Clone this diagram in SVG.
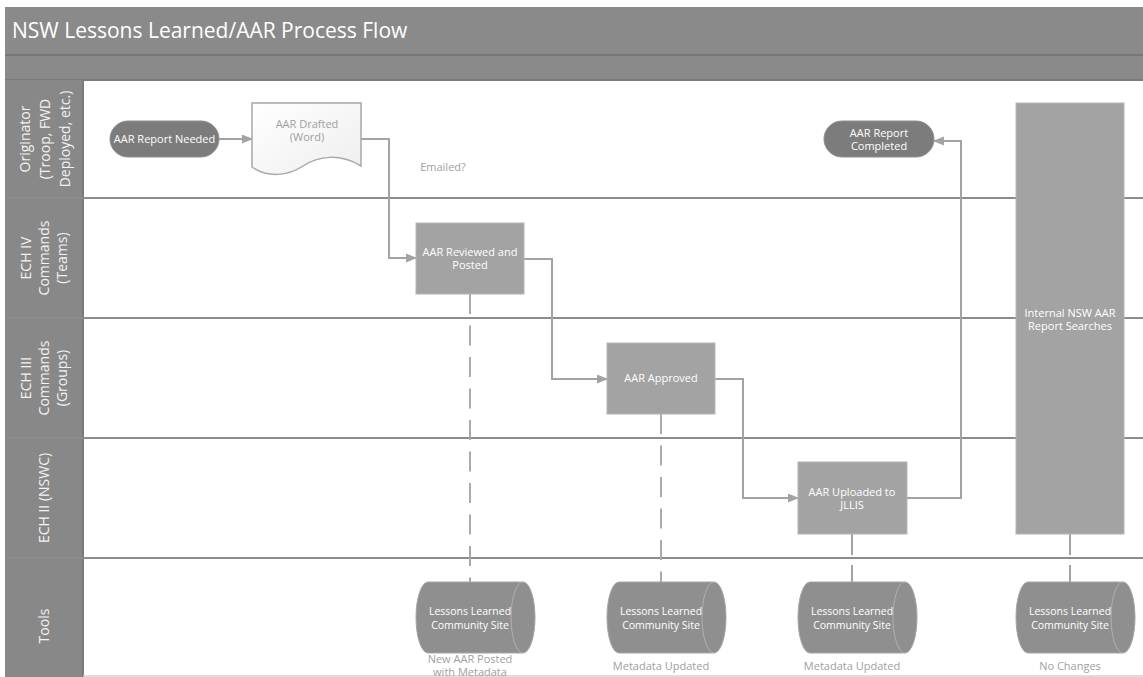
<svg xmlns="http://www.w3.org/2000/svg" width="1143" height="677" viewBox="0 0 1143 677">
<style>
.t{font-family:"Open Sans","Noto Sans","Liberation Sans",sans-serif}
.title{font-size:21px;fill:#ffffff}
.lane{font-size:14px;fill:#f2f2f2}
.nt{font-size:11px;fill:#ffffff}
.ct{font-size:10.5px;fill:#ffffff}
.gt{font-size:11px;fill:#a0a0a0}
.conn{fill:none;stroke:#a3a3a3;stroke-width:2}
.dash{fill:none;stroke:#aaaaaa;stroke-width:2;stroke-dasharray:20 11.5}
.proc{fill:#a3a3a3;stroke:#b5b5b5;stroke-width:1}
.term{fill:#7c7c7c;stroke:#8f8f8f;stroke-width:1}
.cyl{fill:#8f8f8f;stroke:#a5a5a5;stroke-width:1}
.lline{stroke:#8c8c8c;stroke-width:2}
</style>
<defs>
<marker id="arr" markerWidth="11" markerHeight="10" refX="10" refY="4.5" orient="auto" markerUnits="userSpaceOnUse">
<path d="M0,0 L11,4.5 L0,9 Z" fill="#a3a3a3"/>
</marker>
<linearGradient id="docg" x1="0" y1="0" x2="1" y2="1">
<stop offset="0" stop-color="#ffffff"/>
<stop offset="1" stop-color="#eeeeee"/>
</linearGradient>
</defs>
<rect x="0" y="0" width="1143" height="677" fill="#ffffff"/>
<g id="header">
<rect x="5" y="7" width="1138" height="73" fill="#8a8a8a"/>
<line x1="5" y1="55" x2="1143" y2="55" stroke="#777777" stroke-width="2"/>
<line x1="5" y1="80" x2="1143" y2="80" stroke="#7a7a7a" stroke-width="2"/>
<text class="t title" x="12" y="38">NSW Lessons Learned/AAR Process Flow</text>
</g>
<g id="lanes">
<rect x="5" y="80" width="78" height="597" fill="#888888"/>
<line x1="83" y1="80" x2="83" y2="677" stroke="#7a7a7a" stroke-width="2"/>
<line x1="5" y1="198" x2="1143" y2="198" class="lline"/>
<line x1="5" y1="318" x2="1143" y2="318" class="lline"/>
<line x1="5" y1="438" x2="1143" y2="438" class="lline"/>
<line x1="5" y1="558" x2="1143" y2="558" class="lline"/>
<line x1="83" y1="676" x2="1143" y2="676" stroke="#d0d0d0" stroke-width="1.5"/>
<text class="t lane" text-anchor="middle" transform="translate(45,139) rotate(-90)"><tspan x="0" y="-15">Originator</tspan><tspan x="0" y="5">(Troop, FWD</tspan><tspan x="0" y="25">Deployed, etc.)</tspan></text>
<text class="t lane" text-anchor="middle" transform="translate(44,258) rotate(-90)"><tspan x="0" y="-13">ECH IV</tspan><tspan x="0" y="5">Commands</tspan><tspan x="0" y="23">(Teams)</tspan></text>
<text class="t lane" text-anchor="middle" transform="translate(44,378) rotate(-90)"><tspan x="0" y="-13">ECH III</tspan><tspan x="0" y="5">Commands</tspan><tspan x="0" y="23">(Groups)</tspan></text>
<text class="t lane" text-anchor="middle" transform="translate(44,498) rotate(-90)"><tspan x="0" y="5">ECH II (NSWC)</tspan></text>
<text class="t lane" text-anchor="middle" transform="translate(44,626) rotate(-90)"><tspan x="0" y="5">Tools</tspan></text>
</g>
<g id="connectors">
<line x1="219" y1="139" x2="252" y2="139" class="conn" marker-end="url(#arr)"/>
<polyline points="361,139 389,139 389,258 416,258" class="conn" marker-end="url(#arr)"/>
<polyline points="524,259 552,259 552,379 607,379" class="conn" marker-end="url(#arr)"/>
<polyline points="715,379 743,379 743,498 798,498" class="conn" marker-end="url(#arr)"/>
<polyline points="907,498 961,498 961,141 934,141" class="conn" marker-end="url(#arr)"/>
<line x1="470" y1="294" x2="470" y2="582" class="dash"/>
<line x1="661" y1="414" x2="661" y2="582" class="dash"/>
<line x1="852" y1="534" x2="852" y2="555" class="conn"/>
<line x1="852" y1="565" x2="852" y2="582" class="conn"/>
<line x1="1070" y1="534" x2="1070" y2="555" class="conn"/>
<line x1="1070" y1="565" x2="1070" y2="582" class="conn"/>
</g>
<g id="n-report-needed">
<rect x="110" y="121" width="109" height="36" rx="18" class="term"/>
<text class="t nt" x="164.5" y="143" text-anchor="middle">AAR Report Needed</text>
</g>
<g id="n-drafted">
<path d="M252,103 H361 V166 C340,153 318,156 303,166 C288,176 268,178 252,167 Z" fill="url(#docg)" stroke="#a8a8a8" stroke-width="1.5"/>
<text class="t gt" x="307" y="128" text-anchor="middle">AAR Drafted</text>
<text class="t gt" x="307" y="141" text-anchor="middle">(Word)</text>
</g>
<g id="n-emailed">
<text class="t gt" x="443" y="171" text-anchor="middle">Emailed?</text>
</g>
<g id="n-reviewed">
<rect x="416" y="223" width="108" height="71" class="proc"/>
<text class="t nt" x="470" y="256" text-anchor="middle">AAR Reviewed and</text>
<text class="t nt" x="470" y="269" text-anchor="middle">Posted</text>
</g>
<g id="n-approved">
<rect x="607" y="343" width="108" height="71" class="proc"/>
<text class="t nt" x="661" y="382" text-anchor="middle">AAR Approved</text>
</g>
<g id="n-uploaded">
<rect x="798" y="462" width="109" height="72" class="proc"/>
<text class="t nt" x="852" y="496" text-anchor="middle">AAR Uploaded to</text>
<text class="t nt" x="852" y="509" text-anchor="middle">JLLIS</text>
</g>
<g id="n-completed">
<rect x="824" y="121" width="110" height="36" rx="18" class="term"/>
<text class="t nt" x="879" y="137" text-anchor="middle">AAR Report</text>
<text class="t nt" x="879" y="150" text-anchor="middle">Completed</text>
</g>
<g id="n-searches">
<rect x="1016" y="103" width="108" height="431" class="proc"/>
<text class="t nt" x="1070" y="317" text-anchor="middle">Internal NSW AAR</text>
<text class="t nt" x="1070" y="330" text-anchor="middle">Report Searches</text>
</g>
<g id="n-site1">
<path d="M428,582 H523 A12,35.5 0 0 1 523,653 H428 A12,35.5 0 0 1 428,582 Z" class="cyl"/>
<path d="M523,582 A12,35.5 0 0 0 523,653" fill="none" stroke="#b0b0b0" stroke-width="1"/>
<text class="t ct" x="470" y="615" text-anchor="middle">Lessons Learned</text>
<text class="t ct" x="470" y="629" text-anchor="middle">Community Site</text>
<text class="t gt" x="470" y="663" text-anchor="middle">New AAR Posted</text>
<text class="t gt" x="470" y="676" text-anchor="middle">with Metadata</text>
</g>
<g id="n-site2">
<path d="M619,582 H714 A12,35.5 0 0 1 714,653 H619 A12,35.5 0 0 1 619,582 Z" class="cyl"/>
<path d="M714,582 A12,35.5 0 0 0 714,653" fill="none" stroke="#b0b0b0" stroke-width="1"/>
<text class="t ct" x="661" y="615" text-anchor="middle">Lessons Learned</text>
<text class="t ct" x="661" y="629" text-anchor="middle">Community Site</text>
<text class="t gt" x="661" y="670" text-anchor="middle">Metadata Updated</text>
</g>
<g id="n-site3">
<path d="M810,582 H905 A12,35.5 0 0 1 905,653 H810 A12,35.5 0 0 1 810,582 Z" class="cyl"/>
<path d="M905,582 A12,35.5 0 0 0 905,653" fill="none" stroke="#b0b0b0" stroke-width="1"/>
<text class="t ct" x="852" y="615" text-anchor="middle">Lessons Learned</text>
<text class="t ct" x="852" y="629" text-anchor="middle">Community Site</text>
<text class="t gt" x="852" y="670" text-anchor="middle">Metadata Updated</text>
</g>
<g id="n-site4">
<path d="M1028,582 H1123 A12,35.5 0 0 1 1123,653 H1028 A12,35.5 0 0 1 1028,582 Z" class="cyl"/>
<path d="M1123,582 A12,35.5 0 0 0 1123,653" fill="none" stroke="#b0b0b0" stroke-width="1"/>
<text class="t ct" x="1070" y="615" text-anchor="middle">Lessons Learned</text>
<text class="t ct" x="1070" y="629" text-anchor="middle">Community Site</text>
<text class="t gt" x="1070" y="670" text-anchor="middle">No Changes</text>
</g>
</svg>
